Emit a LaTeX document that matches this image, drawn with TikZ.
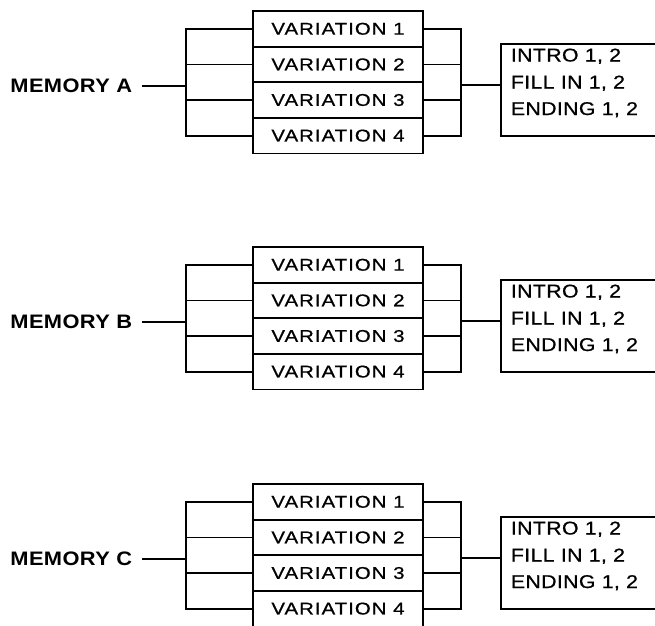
\documentclass[tikz,border=0pt]{standalone}
\usepackage{fontspec}
\setmainfont{Liberation Sans}
\newfontfamily\varfont[LetterSpace=6,FakeStretch=1.2,FakeBold=0.8]{Liberation Sans}
\newfontfamily\memfont[LetterSpace=2,FakeStretch=1.12]{Liberation Sans}
\newfontfamily\infofont[LetterSpace=2,FakeStretch=1.15,FakeBold=0.8]{Liberation Sans}
\begin{document}
\begin{tikzpicture}[x=1pt,y=-1pt,line width=1.8pt,
  varbox/.style={draw,minimum width=170pt,minimum height=35.6pt,inner sep=0pt,
    font=\varfont\fontsize{17}{18}\selectfont},
  memlabel/.style={anchor=east,inner sep=0pt,
    font=\memfont\bfseries\fontsize{19.5}{20}\selectfont},
  infobox/.style={draw,minimum width=200pt,minimum height=92pt,inner sep=0pt},
  infotext/.style={anchor=base west,inner sep=0pt,
    font=\infofont\fontsize{18.5}{20}\selectfont}]
\useasboundingbox (0,0) rectangle (655,625);
\clip (0,0) rectangle (655,625);
\foreach \g/\t in {A/11,B/247,C/484}{
  \foreach \i in {1,...,4}{
    \node[varbox] (V\g\i) at (338,{\t+17.8+35.6*(\i-1)}) {VARIATION \i};
  }
  \node[memlabel] (M\g) at (133,\t+75) {MEMORY \g};
  \coordinate (L\g) at (186,\t+75);
  \coordinate (R\g) at (461,\t+74);
  \node[infobox] (I\g) at (601,\t+79) {};
  \node[infotext] (T\g1) at (510,\t+50.5) {INTRO 1, 2};
  \node[infotext] (T\g2) at (510,\t+77.5) {FILL IN 1, 2};
  \node[infotext] (T\g3) at (510,\t+104) {ENDING 1, 2};
  % left bracket
  \draw (V\g1.west) -- (V\g1.west -| L\g) -- (V\g4.west -| L\g) -- (V\g4.west);
  \draw (V\g2.west) -- (V\g2.west -| L\g);
  \draw (V\g3.west) -- (V\g3.west -| L\g);
  \draw ([xshift=9pt]M\g.east) -- (L\g);
  % right bracket
  \draw (V\g1.east) -- (V\g1.east -| R\g) -- (V\g4.east -| R\g) -- (V\g4.east);
  \draw (V\g2.east) -- (V\g2.east -| R\g);
  \draw (V\g3.east) -- (V\g3.east -| R\g);
  \draw (R\g) -- (I\g.west |- R\g);
}
\end{tikzpicture}
\end{document}
